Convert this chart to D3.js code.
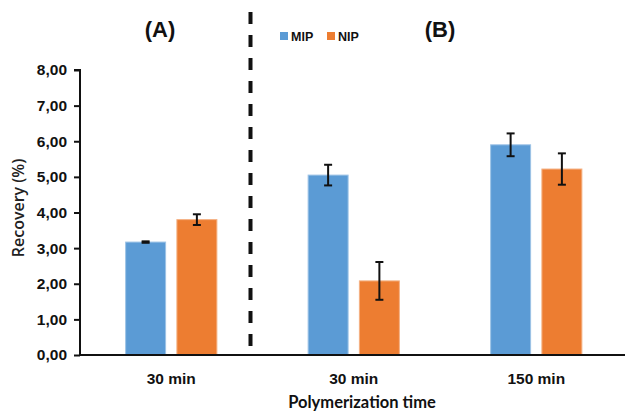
<!DOCTYPE html>
<html lang="en">
<head>
<meta charset="UTF-8">
<title>Recovery vs polymerization time</title>
<style>
  body { margin: 0; background: #fff; }
  svg { display: block; font-family: Lato, "Open Sans", sans-serif; }
</style>
<script src="https://d3js.org/d3.v7.min.js"></script>
</head>
<body>
<script>
// data
var groups = ["A30", "B30", "B150"];
var groupLabels = ["30 min", "30 min", "150 min"];
var series = ["MIP", "NIP"];
var mipValues = [3.17, 5.05, 5.90];
var mipErrors = [0.02, 0.29, 0.32];
var nipValues = [3.80, 2.08, 5.22];
var nipErrors = [0.15, 0.53, 0.44];
var yTicks = [0, 1, 2, 3, 4, 5, 6, 7, 8];

var width = 625, height = 413;
var colors = { MIP: "#5B9BD5", NIP: "#ED7D31" };
var strokes = { MIP: "#9DC3E6", NIP: "#F4B183" };
var arial = "'Liberation Sans', Arial, sans-serif";

var svg = d3.select("body").append("svg")
  .attr("width", width).attr("height", height);

var x = d3.scaleBand().domain(groups).range([80, 627.5]).paddingInner(0.5).paddingOuter(0.25);
var xs = d3.scaleBand().domain(series).range([0, x.bandwidth()]).paddingInner(0.22);
var y = d3.scaleLinear().domain([0, 8]).range([355, 70]);

var rows = [];
groups.forEach(function (g, i) {
  rows.push({ g: g, s: "MIP", v: mipValues[i], e: mipErrors[i] });
  rows.push({ g: g, s: "NIP", v: nipValues[i], e: nipErrors[i] });
});

// bars
svg.append("g").selectAll("rect").data(rows).enter().append("rect")
  .attr("x", function (d) { return x(d.g) + xs(d.s); })
  .attr("y", function (d) { return y(d.v); })
  .attr("width", xs.bandwidth())
  .attr("height", function (d) { return y(0) - y(d.v); })
  .attr("fill", function (d) { return colors[d.s]; })
  .attr("stroke", function (d) { return strokes[d.s]; })
  .attr("stroke-width", 1);

// error bars
var eb = svg.append("g").attr("stroke", "#111").attr("stroke-width", 2);
rows.forEach(function (d) {
  var cx = x(d.g) + xs(d.s) + xs.bandwidth() / 2;
  eb.append("line").attr("x1", cx).attr("x2", cx)
    .attr("y1", y(d.v + d.e)).attr("y2", y(d.v - d.e));
  [d.v + d.e, d.v - d.e].forEach(function (t) {
    eb.append("line").attr("x1", cx - 4).attr("x2", cx + 4)
      .attr("y1", y(t)).attr("y2", y(t));
  });
});

// y axis
var yAxis = d3.axisLeft(y).tickValues(yTicks).tickSize(6).tickPadding(7)
  .tickFormat(function (d) { return d3.format(".2f")(d).replace(".", ","); });
var gy = svg.append("g").attr("transform", "translate(80,0)").call(yAxis);
gy.select(".domain").attr("stroke", "#111").attr("stroke-width", 2)
  .attr("d", "M-6," + y(8) + "H0V" + y(0));
gy.selectAll(".tick line").attr("stroke", "#111").attr("stroke-width", 2);
gy.selectAll("text").attr("font-size", 15.5).attr("font-weight", "bold").attr("fill", "#111");

// x axis
var xAxis = d3.axisBottom(x).tickSize(0).tickPadding(18)
  .tickFormat(function (d, i) { return groupLabels[i]; });
var gx = svg.append("g").attr("transform", "translate(0," + y(0) + ")").call(xAxis);
gx.select(".domain").attr("stroke", "#111").attr("stroke-width", 2)
  .attr("d", "M80,0H625");
gx.selectAll("text").attr("font-size", 15.5).attr("font-weight", "bold").attr("fill", "#111");

// axis titles
svg.append("text").attr("x", 362).attr("y", 408).attr("text-anchor", "middle")
  .attr("font-size", 16.5).attr("font-weight", "bold").attr("fill", "#111")
  .text("Polymerization time");
svg.append("text").attr("transform", "translate(24,208) rotate(-90)")
  .attr("text-anchor", "middle").attr("font-family", "'Open Sans', sans-serif")
  .attr("font-size", 16).attr("font-weight", 600).attr("fill", "#222")
  .text("Recovery (%)");

// dashed divider
svg.append("line").attr("x1", 250.5).attr("x2", 250.5).attr("y1", 12).attr("y2", 346)
  .attr("stroke", "#111").attr("stroke-width", 4).attr("stroke-dasharray", "12,11");

// panel labels
svg.append("text").attr("x", 160).attr("y", 37).attr("text-anchor", "middle")
  .attr("font-family", arial).attr("font-size", 22).attr("font-weight", "bold")
  .attr("fill", "#111").text("(A)");
svg.append("text").attr("x", 440).attr("y", 37).attr("text-anchor", "middle")
  .attr("font-family", arial).attr("font-size", 22).attr("font-weight", "bold")
  .attr("fill", "#111").text("(B)");

// legend
var lg = svg.append("g").attr("transform", "translate(280,32)");
var lx = [0, 47];
series.forEach(function (s, i) {
  lg.append("rect").attr("x", lx[i]).attr("y", 0).attr("width", 8).attr("height", 8)
    .attr("fill", colors[s]);
  lg.append("text").attr("x", lx[i] + 11).attr("y", 8.5)
    .attr("font-family", arial).attr("font-size", 12.5).attr("font-weight", "bold")
    .attr("fill", "#111").text(s);
});
</script>
</body>
</html>
